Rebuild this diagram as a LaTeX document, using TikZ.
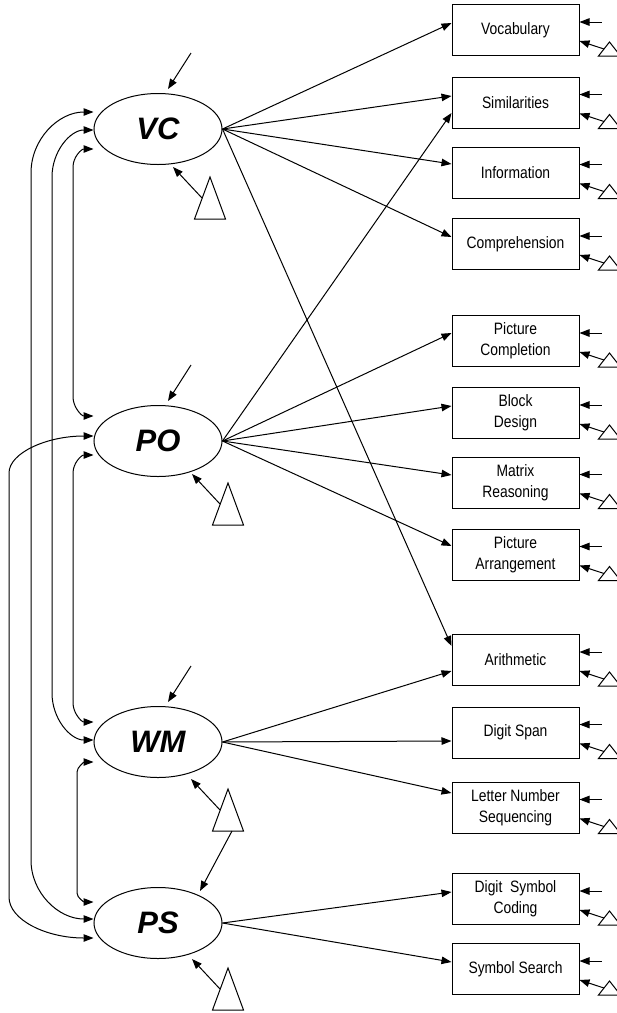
\documentclass[tikz,border=0pt]{standalone}
\usepackage{fontspec}
\setmainfont{Liberation Sans}
\newfontfamily\boxfont[FakeStretch=0.84]{Liberation Sans}
\usetikzlibrary{arrows.meta, shapes.geometric}

\begin{document}
\begin{tikzpicture}[
      x=1pt, y=-1pt, line width=1pt,
      >={Triangle[length=10pt, width=7.5pt]},
      lat/.style={draw, ellipse, minimum width=128pt, minimum height=71pt,
                  inner sep=0pt, font=\fontsize{31}{31}\selectfont\bfseries\itshape},
      obs/.style={draw, rectangle, minimum width=127pt, minimum height=51pt,
                  inner sep=0pt, align=center, font=\boxfont\fontsize{16.5}{21}\selectfont},
      load/.style={->},
      cov/.style={<->}]
    \useasboundingbox (0,0) rectangle (617,1013);
    % latent factors
    \node[lat] (vc) at (158,129) {VC};
    \node[lat] (po) at (158,441) {PO};
    \node[lat] (wm) at (158,742) {WM};
    \node[lat] (ps) at (158,923) {PS};
    % subtests
    \node[obs] (voc) at (515.5,30)    {Vocabulary};
    \node[obs] (sim) at (515.5,102.5) {Similarities};
    \node[obs] (inf) at (515.5,172.5) {Information};
    \node[obs] (com) at (515.5,244)   {Comprehension};
    \node[obs] (pcm) at (515.5,341)   {Picture\\Completion};
    \node[obs] (bds) at (515.5,413)   {Block\\Design};
    \node[obs] (mat) at (515.5,482.5) {Matrix\\Reasoning};
    \node[obs] (par) at (515.5,554.5) {Picture\\Arrangement};
    \node[obs] (ari) at (515.5,660)   {Arithmetic};
    \node[obs] (dsp) at (515.5,732.5) {Digit Span};
    \node[obs] (lns) at (515.5,807.5) {Letter Number\\Sequencing};
    \node[obs] (dsc) at (515.5,899)   {Digit\ \ Symbol\\Coding};
    \node[obs] (ssr) at (515.5,969)   {Symbol Search};
    % loadings
    \draw[load] (vc.east) -- ([yshift=7pt]voc.west);
    \draw[load] (vc.east) -- ([yshift=6.5pt]sim.west);
    \draw[load] (vc.east) -- ([yshift=8.5pt]inf.west);
    \draw[load] (vc.east) -- ([yshift=7pt]com.west);
    \draw[load] (vc.east) -- ([yshift=14pt]ari.west);
    \draw[load] (po.east) -- ([yshift=-10.5pt]sim.west);
    \draw[load] (po.east) -- ([yshift=8pt]pcm.west);
    \draw[load] (po.east) -- ([yshift=7pt]bds.west);
    \draw[load] (po.east) -- ([yshift=7.5pt]mat.west);
    \draw[load] (po.east) -- ([yshift=8.5pt]par.west);
    \draw[load] (wm.east) -- ([yshift=-11pt]ari.west);
    \draw[load] (wm.east) -- ([yshift=-8.5pt]dsp.west);
    \draw[load] (wm.east) -- ([yshift=14.5pt]lns.west);
    \draw[load] (ps.east) -- ([yshift=7pt]dsc.west);
    \draw[load] (ps.east) -- ([yshift=7pt]ssr.west);
    % residuals of the subtests
    \foreach \nm in {voc,sim,inf,com,pcm,bds,mat,par,ari,dsp,lns,dsc,ssr} {
      \draw[->] ([xshift=22pt,yshift=-18pt]\nm.north east) -- ([yshift=-18pt]\nm.north east);
      \draw ([xshift=19pt]\nm.south east) -- ([xshift=30pt,yshift=14pt]\nm.south east)
            -- ([xshift=41pt]\nm.south east) -- cycle;
      \draw[->] ([xshift=24.5pt,yshift=7pt]\nm.south east) -- ([yshift=15pt]\nm.south east);
    }
    % disturbances
    \foreach \nm in {vc,po,wm}
      \draw[->] ([xshift=33pt,yshift=40pt]\nm.north) -- ([xshift=10pt,yshift=4pt]\nm.north);
    % means (triangles)
    \foreach \nm/\ax/\ay in {mvc/210/177, mpo/228/483, mwm/228/789, mps/228/968} {
      \draw (\ax,\ay) -- ++(-15.5,42) -- ++(31,0) -- cycle;
      \coordinate (\nm) at (\ax-8,\ay+21);
    }
    \coordinate (mwmb) at (232,831);
    \draw[->] (mvc) -- ([xshift=15pt,yshift=-2pt]vc.south);
    \draw[->] (mpo) -- ([xshift=34pt,yshift=3pt]po.south);
    \draw[->] (mwm) -- ([xshift=33pt,yshift=-1pt]wm.south);
    \draw[->] (mps) -- ([xshift=34pt]ps.south);
    \draw[->] (mwmb) -- ([xshift=42pt,yshift=-4pt]ps.north);
    % factor covariances
    \draw[cov] ([yshift=-20pt]vc.west) .. controls +(-12,0) and +(0,-10) .. (73,167)
               -- (73,397) .. controls +(0,10) and +(-12,0) .. ([yshift=25pt]po.west);
    \draw[cov] ([yshift=-1pt]vc.west) .. controls +(-23,0) and +(0,-26) .. (52,177)
               -- (52,693) .. controls +(0,26) and +(-23,0) .. ([yshift=2pt]wm.west);
    \draw[cov] ([yshift=17pt]vc.west) .. controls +(-35,0) and +(0,-34) .. (31,173)
               -- (31,860) .. controls +(0,33) and +(-35,0) .. ([yshift=4pt]ps.west);
    \draw[cov] ([yshift=5pt]po.west) .. controls +(-47,0) and +(0,-20) .. (9,473)
               -- (9,897) .. controls +(0,23) and +(-47,0) .. ([yshift=-15pt]ps.west);
    \draw[cov] ([yshift=-14pt]po.west) .. controls +(-12,0) and +(0,-10) .. (73,473)
               -- (73,703) .. controls +(0,10) and +(-12,0) .. ([yshift=20pt]wm.west);
    \draw[cov] ([yshift=-20pt]wm.west) .. controls +(-9,0) and +(0,-5) .. (77,772)
               -- (77,893) .. controls +(0,5) and +(-9,0) .. ([yshift=21pt]ps.west);
  \end{tikzpicture}
\end{document}
